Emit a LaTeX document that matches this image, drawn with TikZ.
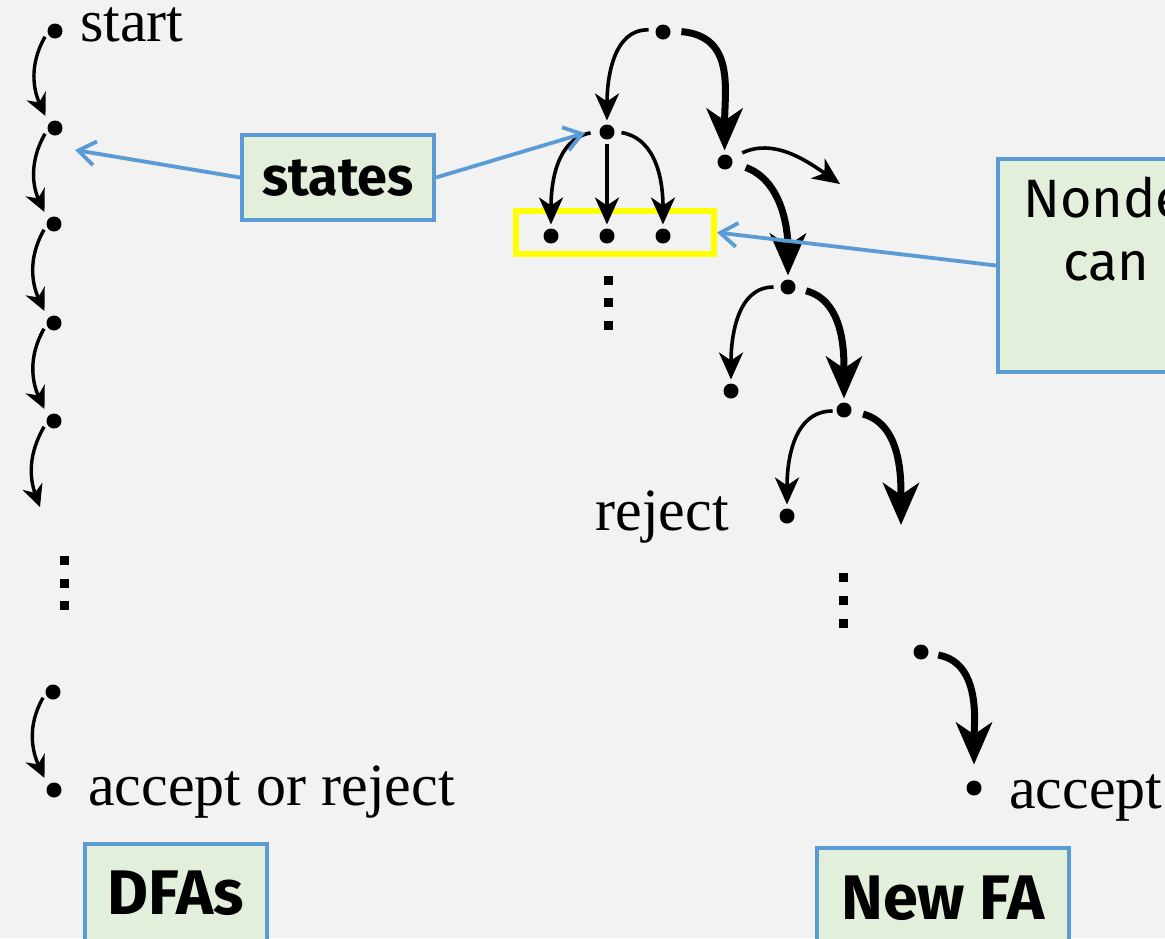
\documentclass[tikz,border=0pt]{standalone}
\usepackage{fontspec}
\setmainfont{Liberation Serif}
\newfontfamily\calloutfont{Fira Sans}
\usetikzlibrary{arrows.meta}
\definecolor{paper}{HTML}{F2F2F2}
\definecolor{notefill}{HTML}{E2EFDA}
\definecolor{noteline}{HTML}{5B9BD5}
\definecolor{marker}{HTML}{FFFF00}
\begin{document}
\begin{tikzpicture}[x=1pt,y=1pt,
  st/.style={circle,fill=black,inner sep=0pt,minimum size=15pt,outer sep=4pt},
  dfaarr/.style={line width=3.4pt,-{Stealth[length=22pt,width=21pt,inset=7pt]}},
  thinarr/.style={line width=3.6pt,-{Stealth[length=27pt,width=24pt,inset=8pt]}},
  thickarr/.style={line width=7pt,-{Stealth[length=42pt,width=36pt,inset=12pt]}},
  lbl/.style={font=\fontsize{60}{72}\selectfont,inner sep=0pt,anchor=base west},
  callout/.style={draw=noteline,fill=notefill,line width=4pt,inner sep=0pt},
  pointer/.style={draw=noteline,line width=3.8pt,-{Straight Barb[length=17pt,width=24pt]}},
  vdot/.style={fill=black}
]
% canvas
\fill[paper] (0,0) rectangle (1165,-938);
\useasboundingbox (0,0) rectangle (1165,-938);

% ---------- deterministic run: a single chain ----------
\node[st] (d1) at (55,-31) {};
\node[st] (d2) at (55,-128) {};
\node[st] (d3) at (54,-224) {};
\node[st] (d4) at (54,-323) {};
\node[st] (d5) at (54,-421) {};
\coordinate (d6) at (40,-507);
\node[st] (d7) at (53,-692) {};
\node[st] (d8) at (54,-790) {};

\draw[dfaarr,shorten >=4pt] (d1.210) to[out=240,in=115] (d2.133);
\draw[dfaarr,shorten >=4pt] (d2.210) to[out=240,in=115] (d3.133);
\draw[dfaarr,shorten >=4pt] (d3.210) to[out=240,in=115] (d4.133);
\draw[dfaarr,shorten >=4pt] (d4.210) to[out=240,in=115] (d5.133);
\draw[dfaarr] (d5.210) to[out=240,in=110] (d6);
\draw[dfaarr,shorten >=4pt] (d7.210) to[out=240,in=115] (d8.133);

\foreach \y in {560,583,605} \fill[vdot] (59.5,-\y+4.5) rectangle +(9,-9);

\node[lbl] (tstart) at (80,-41) {start};
\node[lbl] (tend) at (88,-805) {accept or reject};

% ---------- nondeterministic run: a tree ----------
\node[draw=marker,line width=6pt,minimum width=198pt,minimum height=43pt,inner sep=0pt] (yb) at (615,-232.5) {};

\node[st] (R) at (663,-32) {};
\node[st] (A) at (607,-132) {};
\node[st] (B) at (725,-162) {};
\node[st] (A1) at (551,-236) {};
\node[st] (A2) at (607,-236) {};
\node[st] (A3) at (663,-236) {};
\coordinate (bx) at (840,-184);
\node[st] (C) at (788,-287) {};
\node[st] (C1) at (731,-391) {};
\node[st] (D) at (844,-410) {};
\node[st] (D1) at (787,-516) {};
\coordinate (dx) at (901,-525);
\node[st] (E) at (921,-652) {};
\node[st] (F) at (974,-788) {};

\draw[thinarr,shorten <=3pt] (R.170) to[out=178,in=90] (A.90);
\draw[thickarr,shorten <=7pt] (R.5) to[out=-5,in=90,looseness=1.2] (B.92);
\draw[thinarr,shorten <=5pt] (A.180) to[out=190,in=90] (A1.90);
\draw[thinarr] (A.-90) -- (A2.90);
\draw[thinarr,shorten <=3pt] (A.0) to[out=-10,in=90] (A3.90);
\draw[thinarr,shorten <=8pt] (B.30) to[out=25,in=145] (bx);
\draw[thickarr,shorten <=10pt] (B.-10) to[out=-20,in=90] (C.90);
\draw[thinarr,shorten <=3pt] (C.180) to[out=180,in=90] (C1.90);
\draw[thickarr,shorten <=7pt] (C.-10) to[out=-15,in=90] (D.90);
\draw[thinarr] (D.185) to[out=180,in=90] (D1.90);
\draw[thickarr,shorten <=8pt] (D.-10) to[out=-15,in=90] (dx);
\draw[thickarr,shorten <=6pt,shorten >=12pt] (E.-10) to[out=-10,in=90] (F.90);

\foreach \y in {280,302,325} \fill[vdot] (603.5,-\y+4.5) rectangle +(9,-9);
\foreach \y in {577,600,623} \fill[vdot] (838.5,-\y+4.5) rectangle +(9,-9);

\node[lbl,anchor=base east] (trej) at (729,-530) {reject};
\node[lbl] (tacc) at (1009,-808) {accept};

% ---------- callouts ----------
\node[callout,anchor=north west,minimum width=192pt,text height=60pt,text depth=25pt,
      font=\calloutfont\bfseries\fontsize{54}{60}\selectfont] (states) at (240,-133) {states};
\node[callout,anchor=north west,minimum width=182pt,text height=70pt,text depth=60pt,
      font=\calloutfont\bfseries\fontsize{63}{70}\selectfont] (dfas) at (83,-842) {DFAs};
\node[callout,anchor=north west,minimum width=252pt,text height=71pt,text depth=60pt,
      font=\calloutfont\bfseries\fontsize{63}{70}\selectfont] (newfa) at (815,-846) {New FA};
\node[callout,anchor=north west,minimum width=320pt,minimum height=213pt] (nd) at (996,-157) {};
\node[font=\calloutfont\fontsize{54}{60}\selectfont,inner sep=0pt,anchor=base west] (nd1) at (1023,-217) {Nonde};
\node[font=\calloutfont\fontsize{54}{60}\selectfont,inner sep=0pt,anchor=base west] (nd2) at (1063,-280) {can};

\coordinate (p1) at (75,-150);
\coordinate (p2) at (585,-133);
\draw[pointer] (states.west) -- (p1);
\draw[pointer] (states.east) -- (p2);
\draw[pointer] (nd.west) -- (yb.east);
\end{tikzpicture}
\end{document}
